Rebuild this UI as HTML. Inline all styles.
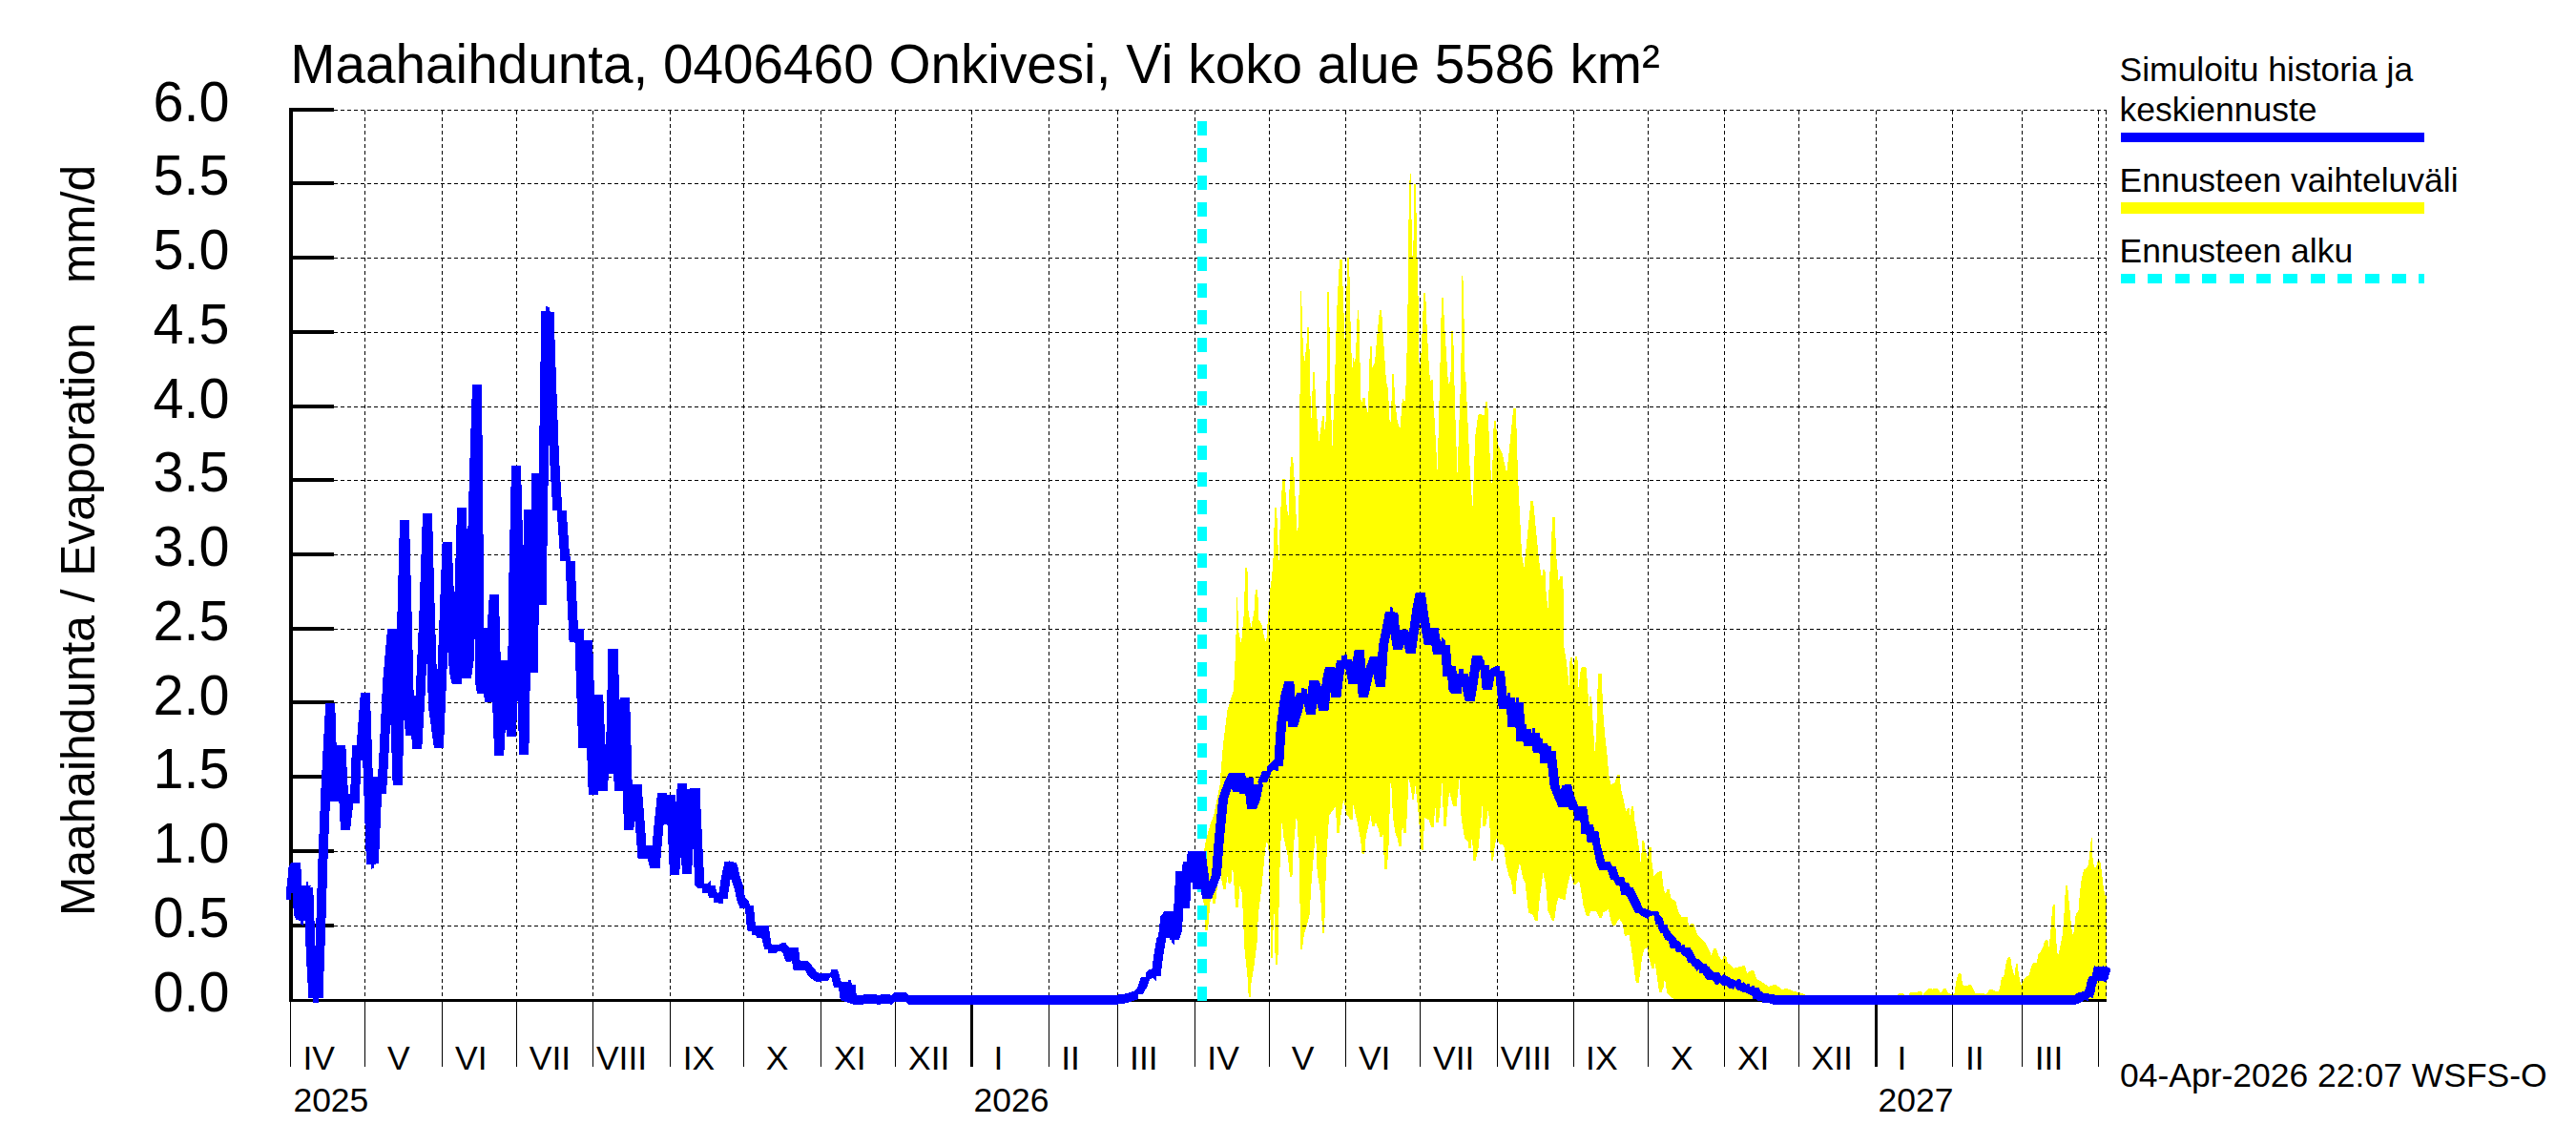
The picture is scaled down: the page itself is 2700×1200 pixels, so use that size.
<!DOCTYPE html>
<html lang="fi"><head><meta charset="utf-8"><title>Maahaihdunta, 0406460 Onkivesi</title>
<style>html,body{margin:0;padding:0;background:#fff}svg{display:block}text{font-family:"Liberation Sans",sans-serif;fill:#000}</style></head><body>
<svg width="2700" height="1200" viewBox="0 0 2700 1200">
<rect width="2700" height="1200" fill="#fff"/>
<g shape-rendering="crispEdges">
<polygon fill="#ffff00" points="1260.0,905.0 1264.0,880.0 1268.0,866.0 1272.7,852.0 1278.4,824.0 1281.8,782.0 1286.3,745.0 1293.0,723.0 1295.4,675.0 1296.0,626.0 1297.2,626.0 1298.0,660.0 1301.0,675.0 1304.0,640.0 1305.2,594.8 1307.4,594.8 1308.5,640.0 1311.3,658.0 1314.5,640.0 1315.8,618.4 1318.2,618.4 1319.5,650.0 1322.2,653.4 1325.0,668.0 1327.2,673.8 1329.5,640.0 1331.0,620.0 1333.0,605.5 1334.5,585.0 1336.2,531.7 1338.2,531.7 1339.0,560.0 1340.4,590.7 1342.0,540.0 1344.2,501.5 1346.7,501.5 1348.0,525.0 1350.4,543.0 1352.0,500.0 1353.0,479.0 1355.0,479.0 1356.0,490.0 1358.0,530.0 1360.1,565.8 1361.5,520.0 1362.4,440.0 1363.0,305.0 1364.2,305.0 1365.0,345.0 1367.0,382.0 1369.5,360.0 1370.5,342.8 1372.2,342.8 1373.0,400.0 1374.4,442.0 1375.5,410.0 1376.1,389.8 1377.8,389.8 1379.0,420.0 1382.4,463.0 1385.0,445.0 1386.0,436.3 1388.0,436.3 1389.0,463.6 1390.5,400.0 1391.5,305.8 1393.2,305.8 1394.0,400.0 1396.5,467.0 1399.0,400.0 1401.0,330.0 1403.0,290.0 1404.2,271.7 1406.5,271.7 1407.5,300.0 1409.6,358.0 1411.5,300.0 1412.5,270.1 1414.2,270.1 1415.0,320.0 1416.5,370.0 1417.5,385.0 1418.0,374.6 1419.2,374.6 1420.0,385.0 1422.0,350.0 1422.8,324.6 1424.3,324.6 1425.0,360.0 1426.7,426.0 1428.2,417.0 1430.5,417.0 1431.5,425.0 1433.5,431.8 1435.0,400.0 1435.8,362.5 1437.5,362.5 1438.5,385.0 1441.0,380.0 1443.5,350.0 1445.5,330.0 1446.3,324.6 1448.0,324.6 1449.0,340.0 1451.0,370.0 1453.0,400.0 1454.4,404.8 1455.5,420.0 1457.1,451.8 1458.5,420.0 1459.2,391.6 1461.0,391.6 1462.0,420.0 1464.5,440.0 1467.3,450.0 1469.0,430.0 1469.8,418.0 1471.3,418.0 1472.0,425.0 1473.0,415.0 1473.7,400.0 1474.5,370.0 1475.5,320.0 1476.5,230.0 1477.3,195.0 1477.8,181.6 1479.0,181.6 1479.5,230.0 1480.5,268.0 1481.6,250.0 1482.4,192.9 1484.0,192.9 1484.8,240.0 1486.5,310.0 1487.5,380.0 1488.5,385.0 1489.5,370.0 1491.0,340.0 1492.2,307.1 1494.2,307.1 1495.0,330.0 1497.0,370.0 1499.0,400.0 1500.0,398.4 1501.7,398.4 1502.5,420.0 1506.6,493.6 1508.5,420.0 1510.0,360.0 1510.9,311.7 1512.7,311.7 1513.5,330.0 1515.0,355.0 1517.5,395.0 1519.0,405.0 1520.5,390.0 1521.5,346.6 1523.2,346.6 1524.0,385.0 1525.5,440.0 1527.5,495.8 1529.5,440.0 1531.0,400.0 1532.0,340.0 1532.3,289.0 1533.3,289.0 1534.0,305.0 1535.5,390.0 1536.5,400.0 1538.4,440.0 1540.6,490.0 1543.4,532.8 1546.3,456.8 1548.5,440.0 1549.8,434.0 1552.2,434.0 1555.4,436.0 1557.2,420.9 1559.2,420.9 1560.0,440.0 1561.5,475.0 1563.4,509.0 1565.0,470.0 1565.7,440.9 1567.5,440.9 1570.2,465.9 1574.7,475.0 1579.2,496.5 1582.0,470.0 1584.5,445.0 1586.3,427.7 1588.5,427.7 1589.4,445.4 1591.0,497.7 1592.8,536.2 1595.1,581.7 1597.4,594.8 1600.0,570.0 1603.0,540.0 1604.5,524.9 1607.0,524.9 1609.9,554.4 1613.3,588.5 1616.0,606.6 1617.2,597.0 1619.4,597.0 1620.5,620.0 1622.4,639.6 1625.0,590.0 1627.2,541.9 1629.8,541.9 1631.0,580.0 1633.7,610.0 1635.2,604.4 1637.6,604.4 1638.7,620.0 1639.1,676.0 1640.9,687.0 1642.7,700.0 1644.5,718.1 1645.7,689.0 1648.0,689.0 1649.0,703.6 1651.0,688.1 1653.4,688.1 1654.5,720.0 1657.0,700.0 1658.2,699.0 1660.8,699.0 1662.7,700.0 1663.6,712.7 1665.4,740.8 1666.5,730.0 1668.2,730.0 1668.7,741.7 1670.0,763.5 1671.8,791.7 1673.6,756.3 1674.5,721.7 1675.4,706.3 1679.0,706.3 1679.6,730.8 1680.9,756.3 1682.7,774.4 1684.5,790.8 1686.3,812.6 1688.7,822.6 1692.7,819.8 1695.0,812.2 1697.5,812.2 1699.0,827.1 1701.7,838.0 1703.1,845.4 1705.1,852.2 1705.7,846.5 1707.4,846.5 1708.6,854.5 1710.0,845.0 1712.2,845.0 1713.1,859.0 1715.4,870.4 1717.6,886.3 1719.9,906.7 1721.1,881.3 1723.3,881.3 1724.5,889.7 1726.7,899.9 1728.5,888.1 1730.5,888.1 1731.3,902.2 1733.5,918.1 1739.0,913.1 1741.5,913.1 1743.8,931.7 1746.0,937.4 1747.2,932.4 1749.5,932.4 1751.7,941.9 1756.2,944.2 1759.6,956.7 1763.0,961.2 1768.7,961.2 1769.9,970.3 1772.8,968.0 1775.2,968.0 1779.0,979.4 1783.5,983.9 1788.0,988.5 1793.7,1001.0 1796.3,993.5 1798.8,993.5 1801.6,1002.1 1805.0,1006.6 1806.8,1001.6 1809.2,1001.6 1810.7,1008.9 1817.5,1014.6 1826.5,1012.3 1829.0,1012.3 1831.2,1020.3 1835.5,1016.9 1838.0,1016.9 1841.4,1025.9 1847.0,1029.3 1853.9,1033.9 1859.5,1032.1 1862.0,1032.1 1867.5,1037.3 1870.8,1036.1 1873.2,1036.1 1878.9,1038.4 1885.7,1040.2 1892.5,1042.5 1897.0,1043.4 1987.8,1043.0 1989.4,1041.9 1991.3,1040.7 1993.8,1040.7 1996.5,1042.7 2000.4,1042.7 2002.3,1039.6 2004.8,1039.6 2008.3,1040.0 2011.8,1039.1 2014.2,1039.1 2015.4,1042.7 2019.3,1038.5 2021.2,1036.1 2023.7,1036.1 2025.6,1036.6 2027.5,1036.1 2030.0,1036.1 2031.9,1037.2 2033.8,1040.7 2036.6,1037.2 2037.5,1036.1 2039.8,1036.1 2041.3,1040.4 2044.5,1041.9 2048.4,1041.6 2050.0,1030.9 2051.5,1023.8 2053.2,1019.9 2055.3,1019.9 2056.2,1026.2 2057.8,1032.8 2061.7,1033.3 2063.7,1032.0 2066.1,1032.0 2067.3,1034.1 2068.8,1037.2 2070.4,1040.7 2077.5,1041.1 2082.2,1041.9 2084.5,1038.0 2085.7,1036.9 2088.2,1036.9 2090.0,1038.0 2091.6,1039.6 2094.8,1038.8 2096.3,1034.8 2097.9,1024.6 2100.3,1023.8 2101.8,1013.6 2103.4,1005.8 2105.3,1002.9 2107.3,1002.9 2108.1,1010.5 2109.7,1016.8 2111.3,1023.1 2112.8,1012.1 2113.6,1010.2 2114.9,1010.2 2115.5,1018.3 2117.1,1027.8 2118.7,1032.5 2120.7,1027.0 2123.1,1023.8 2126.2,1022.7 2128.6,1015.2 2130.1,1010.5 2131.3,1008.6 2133.7,1008.6 2134.8,1008.9 2136.4,1000.3 2138.8,997.9 2141.1,993.2 2142.7,986.9 2144.2,985.0 2146.4,985.0 2147.4,993.2 2149.0,980.6 2150.6,958.6 2151.8,947.9 2153.6,947.9 2154.2,968.0 2155.8,993.2 2156.9,1002.6 2159.2,993.2 2161.6,980.6 2163.1,964.9 2164.7,935.0 2165.5,927.9 2167.1,927.9 2167.9,938.2 2169.4,952.3 2171.0,971.2 2173.0,981.4 2174.6,968.0 2175.7,957.8 2178.4,955.5 2180.0,935.0 2182.0,919.3 2184.4,911.4 2188.3,908.3 2189.9,898.9 2191.4,883.1 2191.8,878.0 2192.6,878.0 2193.0,895.7 2194.6,906.7 2196.2,909.9 2197.7,906.7 2198.9,902.0 2200.9,902.0 2201.7,905.2 2203.2,916.2 2204.8,930.3 2206.4,938.2 2207.6,939.0 2207.6,1048.0 1756.0,1048.0 1751.7,1045.2 1747.2,1040.7 1744.9,1024.8 1743.8,1033.9 1741.5,1039.6 1739.0,1039.6 1736.9,1024.8 1734.7,1008.9 1733.6,1014.6 1731.2,1014.6 1728.5,1004.4 1726.7,993.0 1723.3,995.3 1721.0,1004.4 1718.8,1022.5 1717.7,1029.8 1715.3,1029.8 1714.2,1027.1 1712.0,1008.9 1709.7,993.0 1707.4,979.4 1705.2,980.5 1702.8,980.5 1700.6,968.0 1697.2,962.4 1692.8,970.3 1690.2,970.3 1688.1,963.5 1685.8,953.3 1680.2,956.7 1679.1,962.4 1676.7,962.4 1673.4,955.5 1667.7,954.4 1665.5,960.1 1663.0,960.1 1659.7,949.9 1657.5,936.2 1655.2,922.6 1652.0,927.2 1649.6,927.2 1648.4,922.6 1646.2,914.7 1642.8,929.4 1640.7,942.6 1638.2,942.6 1633.7,940.8 1631.5,947.6 1629.2,964.6 1626.8,964.6 1622.4,954.4 1620.1,927.2 1617.4,914.7 1613.3,945.3 1611.7,965.3 1609.2,965.3 1606.5,958.9 1602.0,956.7 1598.5,924.9 1596.3,920.3 1592.9,904.4 1589.9,918.1 1588.5,937.4 1586.0,937.4 1583.8,922.6 1581.5,918.1 1578.1,904.4 1576.3,886.3 1571.3,884.0 1569.0,877.2 1566.8,886.3 1565.2,901.5 1562.8,901.5 1561.5,868.1 1559.9,847.7 1557.7,863.6 1556.6,865.8 1554.5,865.8 1553.6,844.3 1549.7,888.6 1546.8,901.5 1544.3,901.5 1542.9,874.9 1541.8,888.6 1539.5,888.6 1538.4,881.7 1535.0,878.3 1531.6,856.8 1529.7,815.4 1526.5,845.4 1524.0,845.4 1522.5,843.1 1519.1,829.5 1516.8,852.2 1515.7,865.8 1513.2,865.8 1511.6,820.4 1508.9,854.5 1507.8,862.4 1505.4,862.4 1504.3,843.1 1502.7,867.0 1500.2,867.0 1497.5,859.0 1493.0,856.8 1491.8,890.8 1489.6,890.8 1488.4,874.9 1486.1,845.4 1483.2,821.6 1482.2,837.5 1480.2,837.5 1479.3,829.5 1476.6,815.4 1473.8,872.7 1471.2,872.7 1469.8,863.6 1468.7,887.4 1466.2,887.4 1464.6,878.3 1462.3,872.7 1460.0,856.8 1457.8,811.4 1455.5,886.3 1453.8,910.8 1451.2,910.8 1449.4,872.7 1448.5,877.2 1446.4,877.2 1445.3,870.4 1441.9,861.3 1440.8,865.8 1438.3,865.8 1436.6,854.5 1431.7,877.2 1430.2,895.4 1427.7,895.4 1426.0,879.5 1422.6,861.3 1418.5,844.3 1417.7,859.0 1415.7,859.0 1411.2,853.4 1408.3,837.5 1405.5,854.5 1403.8,872.7 1401.3,872.7 1399.9,845.4 1393.1,854.5 1390.8,890.8 1389.0,936.2 1388.2,978.2 1386.2,978.2 1384.0,936.2 1380.6,913.5 1379.0,870.4 1374.4,927.2 1372.6,958.9 1370.3,968.0 1366.9,979.4 1364.8,995.3 1363.0,995.3 1362.4,936.2 1361.3,890.8 1359.0,851.8 1355.6,890.8 1354.4,919.2 1352.0,919.2 1349.9,897.6 1345.4,877.2 1343.6,861.3 1342.0,890.8 1340.8,936.2 1339.3,1011.2 1336.8,1011.2 1335.1,940.8 1334.0,1004.4 1332.1,1004.4 1331.3,950.0 1329.5,890.8 1327.9,880.6 1326.1,890.8 1322.7,927.2 1318.8,958.9 1317.7,986.2 1314.7,1011.2 1311.5,1030.0 1310.5,1044.8 1308.7,1044.8 1307.9,1027.1 1304.5,995.3 1301.8,936.2 1299.5,929.4 1297.8,951.0 1295.2,951.0 1292.0,906.7 1290.3,926.0 1287.8,926.0 1286.3,918.1 1284.8,931.7 1282.3,931.7 1279.5,918.1 1276.1,927.2 1274.0,946.5 1271.5,946.5 1269.3,936.2 1266.0,974.8 1263.5,974.8 1260.0,925.0"/>
<g stroke="#000" stroke-width="1" stroke-dasharray="4.2 2.8" fill="none">
<line x1="350" y1="970.5" x2="2207.5" y2="970.5"/>
<line x1="350" y1="892.5" x2="2207.5" y2="892.5"/>
<line x1="350" y1="814.5" x2="2207.5" y2="814.5"/>
<line x1="350" y1="736.5" x2="2207.5" y2="736.5"/>
<line x1="350" y1="659.5" x2="2207.5" y2="659.5"/>
<line x1="350" y1="581.5" x2="2207.5" y2="581.5"/>
<line x1="350" y1="503.5" x2="2207.5" y2="503.5"/>
<line x1="350" y1="426.5" x2="2207.5" y2="426.5"/>
<line x1="350" y1="348.5" x2="2207.5" y2="348.5"/>
<line x1="350" y1="270.5" x2="2207.5" y2="270.5"/>
<line x1="350" y1="192.5" x2="2207.5" y2="192.5"/>
<line x1="350" y1="115.5" x2="2207.5" y2="115.5"/>
<line x1="382.5" y1="116" x2="382.5" y2="1047"/>
<line x1="463.5" y1="116" x2="463.5" y2="1047"/>
<line x1="541.5" y1="116" x2="541.5" y2="1047"/>
<line x1="621.5" y1="116" x2="621.5" y2="1047"/>
<line x1="702.5" y1="116" x2="702.5" y2="1047"/>
<line x1="779.5" y1="116" x2="779.5" y2="1047"/>
<line x1="860.5" y1="116" x2="860.5" y2="1047"/>
<line x1="938.5" y1="116" x2="938.5" y2="1047"/>
<line x1="1018.5" y1="116" x2="1018.5" y2="1047"/>
<line x1="1099.5" y1="116" x2="1099.5" y2="1047"/>
<line x1="1171.5" y1="116" x2="1171.5" y2="1047"/>
<line x1="1252.5" y1="116" x2="1252.5" y2="1047"/>
<line x1="1330.5" y1="116" x2="1330.5" y2="1047"/>
<line x1="1410.5" y1="116" x2="1410.5" y2="1047"/>
<line x1="1488.5" y1="116" x2="1488.5" y2="1047"/>
<line x1="1569.5" y1="116" x2="1569.5" y2="1047"/>
<line x1="1649.5" y1="116" x2="1649.5" y2="1047"/>
<line x1="1727.5" y1="116" x2="1727.5" y2="1047"/>
<line x1="1807.5" y1="116" x2="1807.5" y2="1047"/>
<line x1="1885.5" y1="116" x2="1885.5" y2="1047"/>
<line x1="1966.5" y1="116" x2="1966.5" y2="1047"/>
<line x1="2046.5" y1="116" x2="2046.5" y2="1047"/>
<line x1="2119.5" y1="116" x2="2119.5" y2="1047"/>
<line x1="2199.5" y1="116" x2="2199.5" y2="1047"/>
<line x1="2207.5" y1="116" x2="2207.5" y2="1047"/>
</g>
<rect x="303" y="113" width="4" height="937" fill="#000"/>
<rect x="303" y="1047" width="1905" height="3" fill="#000"/>
<rect x="303" y="968" width="47" height="4" fill="#000"/>
<rect x="303" y="890" width="47" height="4" fill="#000"/>
<rect x="303" y="812" width="47" height="4" fill="#000"/>
<rect x="303" y="734" width="47" height="4" fill="#000"/>
<rect x="303" y="657" width="47" height="4" fill="#000"/>
<rect x="303" y="579" width="47" height="4" fill="#000"/>
<rect x="303" y="501" width="47" height="4" fill="#000"/>
<rect x="303" y="424" width="47" height="4" fill="#000"/>
<rect x="303" y="346" width="47" height="4" fill="#000"/>
<rect x="303" y="268" width="47" height="4" fill="#000"/>
<rect x="303" y="190" width="47" height="4" fill="#000"/>
<rect x="303" y="113" width="47" height="4" fill="#000"/>
<rect x="303.8" y="1050" width="1.4" height="68" fill="#000"/>
<rect x="381.8" y="1050" width="1.4" height="68" fill="#000"/>
<rect x="462.8" y="1050" width="1.4" height="68" fill="#000"/>
<rect x="540.8" y="1050" width="1.4" height="68" fill="#000"/>
<rect x="620.8" y="1050" width="1.4" height="68" fill="#000"/>
<rect x="701.8" y="1050" width="1.4" height="68" fill="#000"/>
<rect x="778.8" y="1050" width="1.4" height="68" fill="#000"/>
<rect x="859.8" y="1050" width="1.4" height="68" fill="#000"/>
<rect x="937.8" y="1050" width="1.4" height="68" fill="#000"/>
<rect x="1017.0" y="1050" width="3" height="68" fill="#000"/>
<rect x="1098.8" y="1050" width="1.4" height="68" fill="#000"/>
<rect x="1170.8" y="1050" width="1.4" height="68" fill="#000"/>
<rect x="1251.8" y="1050" width="1.4" height="68" fill="#000"/>
<rect x="1329.8" y="1050" width="1.4" height="68" fill="#000"/>
<rect x="1409.8" y="1050" width="1.4" height="68" fill="#000"/>
<rect x="1487.8" y="1050" width="1.4" height="68" fill="#000"/>
<rect x="1568.8" y="1050" width="1.4" height="68" fill="#000"/>
<rect x="1648.8" y="1050" width="1.4" height="68" fill="#000"/>
<rect x="1726.8" y="1050" width="1.4" height="68" fill="#000"/>
<rect x="1806.8" y="1050" width="1.4" height="68" fill="#000"/>
<rect x="1884.8" y="1050" width="1.4" height="68" fill="#000"/>
<rect x="1965.0" y="1050" width="3" height="68" fill="#000"/>
<rect x="2045.8" y="1050" width="1.4" height="68" fill="#000"/>
<rect x="2118.8" y="1050" width="1.4" height="68" fill="#000"/>
<rect x="2198.8" y="1050" width="1.4" height="68" fill="#000"/>
<line x1="1260" y1="1048.8" x2="1260" y2="115" stroke="#00ffff" stroke-width="10" stroke-dasharray="15 13.34"/>
<path fill="#0000ff" fill-rule="nonzero" d="M302.6 908.0L312.6 908.0L310.0 936.0L300.0 936.0ZM305.2 904.0L315.2 904.0L312.6 908.0L302.6 908.0ZM305.2 904.0L315.2 904.0L317.8 958.0L307.8 958.0ZM307.8 958.0L317.8 958.0L320.4 964.0L310.4 964.0ZM318.0 960.0L318.0 970.0L315.4 969.0L315.4 959.0ZM315.6 928.0L325.6 928.0L323.0 965.0L313.0 965.0ZM323.2 925.0L323.2 935.0L320.6 933.0L320.6 923.0ZM318.2 930.0L328.2 930.0L330.8 1000.0L320.8 1000.0ZM320.8 1000.0L330.8 1000.0L333.4 1046.0L323.4 1046.0ZM333.5 1041.0L333.5 1051.0L328.4 1051.0L328.4 1041.0ZM331.1 975.0L341.1 975.0L338.5 1046.0L328.5 1046.0ZM333.7 895.0L343.7 895.0L341.1 975.0L331.1 975.0ZM336.3 830.0L346.3 830.0L343.7 895.0L333.7 895.0ZM338.9 780.0L348.9 780.0L346.3 830.0L336.3 830.0ZM341.2 737.0L351.2 737.0L348.9 780.0L338.9 780.0ZM341.2 737.0L351.2 737.0L354.5 840.0L344.5 840.0ZM348.0 800.0L358.0 800.0L354.5 840.0L344.5 840.0ZM352.3 781.0L362.3 781.0L358.0 800.0L348.0 800.0ZM352.3 781.0L362.3 781.0L367.0 870.0L357.0 870.0ZM361.5 832.0L371.5 832.0L367.0 870.0L357.0 870.0ZM361.5 832.0L371.5 832.0L376.8 841.5L366.8 841.5ZM369.0 781.0L379.0 781.0L376.8 841.5L366.8 841.5ZM369.0 781.0L379.0 781.0L382.5 797.0L372.5 797.0ZM375.3 760.0L385.3 760.0L382.5 797.0L372.5 797.0ZM377.9 726.0L387.9 726.0L385.3 760.0L375.3 760.0ZM377.9 726.0L387.9 726.0L391.0 820.0L381.0 820.0ZM381.0 820.0L391.0 820.0L394.0 906.0L384.0 906.0ZM391.8 900.0L391.8 910.0L389.0 911.0L389.0 901.0ZM391.0 814.0L401.0 814.0L396.8 905.0L386.8 905.0ZM391.0 814.0L401.0 814.0L405.0 832.0L395.0 832.0ZM398.0 780.0L408.0 780.0L405.0 832.0L395.0 832.0ZM401.0 716.0L411.0 716.0L408.0 780.0L398.0 780.0ZM406.0 659.0L416.0 659.0L411.0 716.0L401.0 716.0ZM406.0 659.0L416.0 659.0L421.7 823.0L411.7 823.0ZM415.5 680.0L425.5 680.0L421.7 823.0L411.7 823.0ZM419.0 545.0L429.0 545.0L425.5 680.0L415.5 680.0ZM419.0 545.0L429.0 545.0L432.0 660.0L422.0 660.0ZM422.0 660.0L432.0 660.0L434.7 771.0L424.7 771.0ZM428.5 729.0L438.5 729.0L434.7 771.0L424.7 771.0ZM428.5 729.0L438.5 729.0L442.2 785.0L432.2 785.0ZM436.0 720.0L446.0 720.0L442.2 785.0L432.2 785.0ZM439.5 640.0L449.5 640.0L446.0 720.0L436.0 720.0ZM443.0 538.0L453.0 538.0L449.5 640.0L439.5 640.0ZM443.0 538.0L453.0 538.0L456.0 650.0L446.0 650.0ZM446.0 650.0L456.0 650.0L459.0 741.0L449.0 741.0ZM449.0 741.0L459.0 741.0L464.9 784.0L454.9 784.0ZM459.0 690.0L469.0 690.0L464.9 784.0L454.9 784.0ZM463.6 568.0L473.6 568.0L469.0 690.0L459.0 690.0ZM463.6 568.0L473.6 568.0L477.0 650.0L467.0 650.0ZM467.0 650.0L477.0 650.0L481.0 705.0L471.0 705.0ZM471.0 705.0L481.0 705.0L483.7 717.0L473.7 717.0ZM476.5 620.0L486.5 620.0L483.7 717.0L473.7 717.0ZM479.0 532.0L489.0 532.0L486.5 620.0L476.5 620.0ZM479.0 532.0L489.0 532.0L491.5 640.0L481.5 640.0ZM481.5 640.0L491.5 640.0L494.0 711.0L484.0 711.0ZM487.0 690.0L497.0 690.0L494.0 711.0L484.0 711.0ZM490.0 569.0L500.0 569.0L497.0 690.0L487.0 690.0ZM492.5 480.0L502.5 480.0L500.0 569.0L490.0 569.0ZM495.0 403.0L505.0 403.0L502.5 480.0L492.5 480.0ZM495.0 403.0L505.0 403.0L506.5 560.0L496.5 560.0ZM496.5 560.0L506.5 560.0L508.0 715.0L498.0 715.0ZM498.0 715.0L508.0 715.0L510.0 727.0L500.0 727.0ZM502.5 690.0L512.5 690.0L510.0 727.0L500.0 727.0ZM505.0 658.0L515.0 658.0L512.5 690.0L502.5 690.0ZM505.0 658.0L515.0 658.0L517.7 736.0L507.7 736.0ZM510.5 660.0L520.5 660.0L517.7 736.0L507.7 736.0ZM512.9 623.0L522.9 623.0L520.5 660.0L510.5 660.0ZM512.9 623.0L522.9 623.0L525.5 720.0L515.5 720.0ZM515.5 720.0L525.5 720.0L528.2 792.0L518.2 792.0ZM521.0 740.0L531.0 740.0L528.2 792.0L518.2 792.0ZM524.1 692.0L534.1 692.0L531.0 740.0L521.0 740.0ZM524.1 692.0L534.1 692.0L537.5 740.0L527.5 740.0ZM527.5 740.0L537.5 740.0L541.3 771.5L531.3 771.5ZM533.5 600.0L543.5 600.0L541.3 771.5L531.3 771.5ZM536.0 488.0L546.0 488.0L543.5 600.0L533.5 600.0ZM536.0 488.0L546.0 488.0L549.0 600.0L539.0 600.0ZM539.0 600.0L549.0 600.0L552.0 720.0L542.0 720.0ZM542.0 720.0L552.0 720.0L554.3 791.0L544.3 791.0ZM547.0 640.0L557.0 640.0L554.3 791.0L544.3 791.0ZM549.3 534.0L559.3 534.0L557.0 640.0L547.0 640.0ZM549.3 534.0L559.3 534.0L561.5 620.0L551.5 620.0ZM551.5 620.0L561.5 620.0L563.6 705.0L553.6 705.0ZM555.5 600.0L565.5 600.0L563.6 705.0L553.6 705.0ZM557.5 496.0L567.5 496.0L565.5 600.0L555.5 600.0ZM557.5 496.0L567.5 496.0L570.0 580.0L560.0 580.0ZM560.0 580.0L570.0 580.0L572.5 634.0L562.5 634.0ZM565.0 480.0L575.0 480.0L572.5 634.0L562.5 634.0ZM567.3 325.5L577.3 325.5L575.0 480.0L565.0 480.0ZM575.5 322.0L575.5 332.0L572.3 330.5L572.3 320.5ZM570.5 327.0L580.5 327.0L583.0 400.0L573.0 400.0ZM573.0 400.0L583.0 400.0L586.0 480.0L576.0 480.0ZM576.0 480.0L586.0 480.0L589.4 535.0L579.4 535.0ZM588.6 530.0L588.6 540.0L584.4 540.0L584.4 530.0ZM583.6 535.0L593.6 535.0L597.5 588.0L587.5 588.0ZM597.5 583.0L597.5 593.0L592.5 593.0L592.5 583.0ZM592.5 588.0L602.5 588.0L606.6 673.0L596.6 673.0ZM602.0 659.0L612.0 659.0L606.6 673.0L596.6 673.0ZM602.0 659.0L612.0 659.0L616.3 784.0L606.3 784.0ZM611.0 671.0L621.0 671.0L616.3 784.0L606.3 784.0ZM611.0 671.0L621.0 671.0L626.8 833.0L616.8 833.0ZM622.2 728.0L632.2 728.0L626.8 833.0L616.8 833.0ZM622.2 728.0L632.2 728.0L636.5 829.0L626.5 829.0ZM631.0 780.0L641.0 780.0L636.5 829.0L626.5 829.0ZM631.0 780.0L641.0 780.0L644.5 811.0L634.5 811.0ZM637.5 680.0L647.5 680.0L644.5 811.0L634.5 811.0ZM637.5 680.0L647.5 680.0L650.5 760.0L640.5 760.0ZM640.5 760.0L650.5 760.0L654.0 828.6L644.0 828.6ZM647.0 780.0L657.0 780.0L654.0 828.6L644.0 828.6ZM650.1 731.0L660.1 731.0L657.0 780.0L647.0 780.0ZM650.1 731.0L660.1 731.0L664.0 870.0L654.0 870.0ZM658.0 845.0L668.0 845.0L664.0 870.0L654.0 870.0ZM662.5 822.0L672.5 822.0L668.0 845.0L658.0 845.0ZM662.5 822.0L672.5 822.0L675.5 860.0L665.5 860.0ZM665.5 860.0L675.5 860.0L678.6 900.0L668.6 900.0ZM672.0 896.0L682.0 896.0L678.6 900.0L668.6 900.0ZM675.6 886.0L685.6 886.0L682.0 896.0L672.0 896.0ZM675.6 886.0L685.6 886.0L688.5 900.0L678.5 900.0ZM678.5 900.0L688.5 900.0L691.5 910.0L681.5 910.0ZM685.0 870.0L695.0 870.0L691.5 910.0L681.5 910.0ZM689.0 831.0L699.0 831.0L695.0 870.0L685.0 870.0ZM689.0 831.0L699.0 831.0L702.0 848.0L692.0 848.0ZM692.0 848.0L702.0 848.0L704.7 864.0L694.7 864.0ZM698.0 833.0L708.0 833.0L704.7 864.0L694.7 864.0ZM698.0 833.0L708.0 833.0L712.0 916.6L702.0 916.6ZM706.0 870.0L716.0 870.0L712.0 916.6L702.0 916.6ZM710.0 821.4L720.0 821.4L716.0 870.0L706.0 870.0ZM710.0 821.4L720.0 821.4L722.5 870.0L712.5 870.0ZM712.5 870.0L722.5 870.0L725.0 916.2L715.0 916.2ZM717.5 870.0L727.5 870.0L725.0 916.2L715.0 916.2ZM720.0 827.0L730.0 827.0L727.5 870.0L717.5 870.0ZM720.0 827.0L730.0 827.0L731.8 850.0L721.8 850.0ZM723.5 826.0L733.5 826.0L731.8 850.0L721.8 850.0ZM723.5 826.0L733.5 826.0L736.0 880.0L726.0 880.0ZM726.0 880.0L736.0 880.0L738.5 928.0L728.5 928.0ZM728.5 928.0L738.5 928.0L741.0 931.0L731.0 931.0ZM741.0 926.0L741.0 936.0L736.0 936.0L736.0 926.0ZM744.5 923.0L744.5 933.0L741.0 936.0L741.0 926.0ZM739.5 928.0L749.5 928.0L753.0 941.0L743.0 941.0ZM757.5 937.0L757.5 947.0L748.0 946.0L748.0 936.0ZM755.5 922.0L765.5 922.0L762.5 942.0L752.5 942.0ZM759.5 903.0L769.5 903.0L765.5 922.0L755.5 922.0ZM916.0 1041.5L916.0 1051.5L900.0 1053.0L900.0 1043.0ZM920.0 1043.0L920.0 1053.0L916.0 1051.5L916.0 1041.5ZM930.0 1041.5L930.0 1051.5L920.0 1053.0L920.0 1043.0ZM934.0 1043.0L934.0 1053.0L930.0 1051.5L930.0 1041.5ZM937.0 1040.0L937.0 1050.0L934.0 1053.0L934.0 1043.0ZM949.0 1040.0L949.0 1050.0L937.0 1050.0L937.0 1040.0ZM952.0 1043.0L952.0 1053.0L949.0 1050.0L949.0 1040.0ZM1169.0 1043.0L1169.0 1053.0L952.0 1053.0L952.0 1043.0ZM1182.0 1041.0L1182.0 1051.0L1169.0 1053.0L1169.0 1043.0ZM1193.0 1037.0L1193.0 1047.0L1182.0 1051.0L1182.0 1041.0ZM1193.0 1033.0L1203.0 1033.0L1198.0 1042.0L1188.0 1042.0ZM1196.0 1024.0L1206.0 1024.0L1203.0 1033.0L1193.0 1033.0ZM1205.0 1016.0L1205.0 1026.0L1201.0 1029.0L1201.0 1019.0ZM1208.0 1015.0L1208.0 1025.0L1205.0 1026.0L1205.0 1016.0ZM1211.5 1018.0L1211.5 1028.0L1208.0 1025.0L1208.0 1015.0ZM1209.0 1003.0L1219.0 1003.0L1216.5 1023.0L1206.5 1023.0ZM1212.1 984.0L1222.1 984.0L1219.0 1003.0L1209.0 1003.0ZM1214.0 981.0L1224.0 981.0L1222.1 984.0L1212.1 984.0ZM1216.5 960.0L1226.5 960.0L1224.0 981.0L1214.0 981.0ZM1220.5 955.2L1230.5 955.2L1226.5 960.0L1216.5 960.0ZM1220.5 955.2L1230.5 955.2L1233.0 983.0L1223.0 983.0ZM1231.0 980.0L1231.0 990.0L1228.0 988.0L1228.0 978.0ZM1229.0 975.0L1239.0 975.0L1236.0 985.0L1226.0 985.0ZM1232.3 913.3L1242.3 913.3L1239.0 975.0L1229.0 975.0ZM1232.3 913.3L1242.3 913.3L1247.1 952.0L1237.1 952.0ZM1239.7 902.8L1249.7 902.8L1247.1 952.0L1237.1 952.0ZM1239.7 902.8L1249.7 902.8L1252.2 915.0L1242.2 915.0ZM1244.8 892.3L1254.8 892.3L1252.2 915.0L1242.2 915.0ZM1244.8 892.3L1254.8 892.3L1257.5 905.0L1247.5 905.0ZM1247.5 905.0L1257.5 905.0L1260.2 931.6L1250.2 931.6ZM1253.5 892.3L1263.5 892.3L1260.2 931.6L1250.2 931.6ZM1253.5 892.3L1263.5 892.3L1266.5 915.0L1256.5 915.0ZM1256.5 915.0L1266.5 915.0L1270.0 942.0L1260.0 942.0ZM1265.0 930.0L1275.0 930.0L1270.0 942.0L1260.0 942.0ZM1270.0 917.0L1280.0 917.0L1275.0 930.0L1265.0 930.0ZM1273.0 878.0L1283.0 878.0L1280.0 917.0L1270.0 917.0ZM1277.0 838.0L1287.0 838.0L1283.0 878.0L1273.0 878.0ZM1281.0 826.0L1291.0 826.0L1287.0 838.0L1277.0 838.0ZM1284.0 818.0L1294.0 818.0L1291.0 826.0L1281.0 826.0ZM1288.0 810.0L1298.0 810.0L1294.0 818.0L1284.0 818.0ZM1288.0 810.0L1298.0 810.0L1302.0 830.0L1292.0 830.0ZM1295.0 810.0L1305.0 810.0L1302.0 830.0L1292.0 830.0ZM1295.0 810.0L1305.0 810.0L1309.0 832.0L1299.0 832.0ZM1303.5 815.0L1313.5 815.0L1309.0 832.0L1299.0 832.0ZM1303.5 815.0L1313.5 815.0L1317.0 848.0L1307.0 848.0ZM1311.0 838.0L1321.0 838.0L1317.0 848.0L1307.0 848.0ZM1314.0 822.0L1324.0 822.0L1321.0 838.0L1311.0 838.0ZM1323.0 815.0L1323.0 825.0L1319.0 827.0L1319.0 817.0ZM1323.0 808.0L1333.0 808.0L1328.0 820.0L1318.0 820.0ZM1334.0 797.0L1334.0 807.0L1328.0 813.0L1328.0 803.0ZM1340.0 798.0L1340.0 808.0L1334.0 807.0L1334.0 797.0ZM1338.0 760.0L1348.0 760.0L1345.0 803.0L1335.0 803.0ZM1342.0 730.0L1352.0 730.0L1348.0 760.0L1338.0 760.0ZM1346.3 714.2L1356.3 714.2L1352.0 730.0L1342.0 730.0ZM1346.3 714.2L1356.3 714.2L1360.0 762.0L1350.0 762.0ZM1355.0 745.0L1365.0 745.0L1360.0 762.0L1350.0 762.0ZM1359.0 726.0L1369.0 726.0L1365.0 745.0L1355.0 745.0ZM1370.0 722.0L1370.0 732.0L1364.0 731.0L1364.0 721.0ZM1365.0 727.0L1375.0 727.0L1379.0 749.0L1369.0 749.0ZM1372.0 713.0L1382.0 713.0L1379.0 749.0L1369.0 749.0ZM1372.0 713.0L1382.0 713.0L1386.0 722.0L1376.0 722.0ZM1376.0 722.0L1386.0 722.0L1392.4 745.0L1382.4 745.0ZM1386.0 712.0L1396.0 712.0L1392.4 745.0L1382.4 745.0ZM1389.0 699.0L1399.0 699.0L1396.0 712.0L1386.0 712.0ZM1389.0 699.0L1399.0 699.0L1403.0 706.0L1393.0 706.0ZM1393.0 706.0L1403.0 706.0L1405.4 731.0L1395.4 731.0ZM1398.0 710.0L1408.0 710.0L1405.4 731.0L1395.4 731.0ZM1401.0 692.0L1411.0 692.0L1408.0 710.0L1398.0 710.0ZM1412.0 686.0L1412.0 696.0L1406.0 697.0L1406.0 687.0ZM1407.0 691.0L1417.0 691.0L1420.0 700.0L1410.0 700.0ZM1410.0 700.0L1420.0 700.0L1423.5 717.0L1413.5 717.0ZM1416.5 700.0L1426.5 700.0L1423.5 717.0L1413.5 717.0ZM1419.8 680.6L1429.8 680.6L1426.5 700.0L1416.5 700.0ZM1419.8 680.6L1429.8 680.6L1433.8 731.0L1423.8 731.0ZM1430.0 704.0L1440.0 704.0L1433.8 731.0L1423.8 731.0ZM1436.0 688.0L1446.0 688.0L1440.0 704.0L1430.0 704.0ZM1436.0 688.0L1446.0 688.0L1452.0 720.0L1442.0 720.0ZM1445.0 676.0L1455.0 676.0L1452.0 720.0L1442.0 720.0ZM1448.0 662.0L1458.0 662.0L1455.0 676.0L1445.0 676.0ZM1452.0 640.5L1462.0 640.5L1458.0 662.0L1448.0 662.0ZM1460.3 637.0L1460.3 647.0L1457.0 645.5L1457.0 635.5ZM1455.3 642.0L1465.3 642.0L1467.5 665.0L1457.5 665.0ZM1457.5 665.0L1467.5 665.0L1470.0 680.6L1460.0 680.6ZM1465.8 660.0L1475.8 660.0L1470.0 680.6L1460.0 680.6ZM1465.8 660.0L1475.8 660.0L1480.0 670.0L1470.0 670.0ZM1470.0 670.0L1480.0 670.0L1483.7 685.0L1473.7 685.0ZM1476.5 665.0L1486.5 665.0L1483.7 685.0L1473.7 685.0ZM1480.0 640.0L1490.0 640.0L1486.5 665.0L1476.5 665.0ZM1483.8 621.0L1493.8 621.0L1490.0 640.0L1480.0 640.0ZM1483.8 621.0L1493.8 621.0L1498.0 650.0L1488.0 650.0ZM1488.0 650.0L1498.0 650.0L1502.8 676.3L1492.8 676.3ZM1497.6 658.2L1507.6 658.2L1502.8 676.3L1492.8 676.3ZM1497.6 658.2L1507.6 658.2L1511.9 685.7L1501.9 685.7ZM1505.5 672.0L1515.5 672.0L1511.9 685.7L1501.9 685.7ZM1514.8 671.0L1514.8 681.0L1510.5 677.0L1510.5 667.0ZM1509.8 676.0L1519.8 676.0L1522.5 709.3L1512.5 709.3ZM1516.0 698.3L1526.0 698.3L1522.5 709.3L1512.5 709.3ZM1516.0 698.3L1526.0 698.3L1528.5 723.4L1518.5 723.4ZM1518.5 723.4L1528.5 723.4L1531.6 727.4L1521.6 727.4ZM1524.0 705.6L1534.0 705.6L1531.6 727.4L1521.6 727.4ZM1533.5 700.6L1533.5 710.6L1529.0 710.6L1529.0 700.6ZM1528.5 705.6L1538.5 705.6L1542.0 718.0L1532.0 718.0ZM1532.0 718.0L1542.0 718.0L1545.7 735.2L1535.7 735.2ZM1539.0 715.0L1549.0 715.0L1545.7 735.2L1535.7 735.2ZM1543.0 687.0L1553.0 687.0L1549.0 715.0L1539.0 715.0ZM1543.0 687.0L1553.0 687.0L1556.5 697.0L1546.5 697.0ZM1556.0 692.0L1556.0 702.0L1551.5 702.0L1551.5 692.0ZM1551.0 697.0L1561.0 697.0L1563.8 723.4L1553.8 723.4ZM1557.0 706.0L1567.0 706.0L1563.8 723.4L1553.8 723.4ZM1567.0 698.3L1567.0 708.3L1562.0 711.0L1562.0 701.0ZM1572.0 698.3L1572.0 708.3L1567.0 708.3L1567.0 698.3ZM1567.0 703.3L1577.0 703.3L1580.8 743.0L1570.8 743.0ZM1575.0 731.2L1585.0 731.2L1580.8 743.0L1570.8 743.0ZM1583.2 726.2L1583.2 736.2L1580.0 736.2L1580.0 726.2ZM1578.2 731.2L1588.2 731.2L1590.5 762.4L1580.5 762.4ZM1584.0 736.2L1594.0 736.2L1590.5 762.4L1580.5 762.4ZM1591.7 731.2L1591.7 741.2L1589.0 741.2L1589.0 731.2ZM1586.7 736.2L1596.7 736.2L1599.5 776.7L1589.5 776.7ZM1592.5 763.5L1602.5 763.5L1599.5 776.7L1589.5 776.7ZM1599.7 758.5L1599.7 768.5L1597.5 768.5L1597.5 758.5ZM1594.7 763.5L1604.7 763.5L1607.0 781.7L1597.0 781.7ZM1601.0 768.0L1611.0 768.0L1607.0 781.7L1597.0 781.7ZM1608.8 763.0L1608.8 773.0L1606.0 773.0L1606.0 763.0ZM1603.8 768.0L1613.8 768.0L1616.7 788.5L1606.7 788.5ZM1609.5 779.4L1619.5 779.4L1616.7 788.5L1606.7 788.5ZM1617.4 774.4L1617.4 784.4L1614.5 784.4L1614.5 774.4ZM1612.4 779.4L1622.4 779.4L1624.5 799.8L1614.5 799.8ZM1618.0 787.3L1628.0 787.3L1624.5 799.8L1614.5 799.8ZM1625.6 782.3L1625.6 792.3L1623.0 792.3L1623.0 782.3ZM1620.6 787.3L1630.6 787.3L1634.7 824.8L1624.7 824.8ZM1624.7 824.8L1634.7 824.8L1639.2 836.1L1629.2 836.1ZM1629.2 836.1L1639.2 836.1L1643.7 846.4L1633.7 846.4ZM1637.0 822.5L1647.0 822.5L1643.7 846.4L1633.7 846.4ZM2174.0 1043.0L2174.0 1053.0L1870.0 1053.0L1870.0 1043.0ZM764.2 901.4L766.3 904.2L771.9 904.2L773.3 908.4L775.4 918.2L778.9 927.9L781.0 940.5L785.1 944.7L785.9 948.9L789.6 948.9L790.0 950.3L791.0 961.5L791.9 969.5L805.4 969.5L806.8 978.3L808.2 988.0L808.9 990.1L815.9 990.1L819.4 988.3L823.6 988.3L826.4 992.2L829.9 993.3L836.9 993.3L838.3 1004.8L839.0 1007.3L847.3 1007.3L856.4 1018.8L857.8 1019.5L870.4 1019.5L871.1 1016.3L878.1 1016.3L878.8 1018.8L881.6 1028.6L882.3 1029.3L888.6 1029.3L889.3 1027.2L892.1 1027.2L892.8 1032.1L896.3 1032.1L896.9 1032.8L897.6 1042.5L898.3 1042.8L905.0 1042.8L905.0 1053.0L894.0 1052.5L880.9 1048.0L878.8 1034.9L873.9 1034.9L871.8 1025.8L870.4 1024.4L867.6 1027.9L862.0 1027.9L860.6 1029.3L855.0 1028.6L850.8 1025.8L847.3 1023.0L845.2 1019.5L843.8 1017.4L836.2 1017.4L832.0 1016.7L831.5 1016.0L829.9 1006.2L829.2 1008.3L824.3 1008.3L822.2 1004.1L820.1 997.8L815.9 996.4L814.5 998.5L804.7 998.5L804.7 995.0L801.9 995.0L801.2 994.3L798.4 983.8L797.7 983.1L793.5 983.1L792.0 980.4L788.0 980.4L788.0 975.5L783.8 975.5L783.0 974.0L781.0 952.4L774.7 952.4L774.7 948.9L772.6 944.7L769.8 932.1L766.3 921.7ZM1640.0 822.4L1647.1 822.4L1649.4 832.6L1652.6 840.4L1654.2 845.2L1662.8 845.2L1663.3 846.7L1665.2 857.7L1665.9 864.3L1669.9 864.3L1671.4 871.4L1675.4 871.4L1675.8 873.5L1677.7 886.0L1680.1 893.9L1682.1 902.5L1687.2 902.5L1690.3 908.1L1693.5 908.1L1694.2 910.4L1697.4 919.1L1702.1 919.1L1702.9 920.6L1703.7 924.6L1706.8 924.6L1709.2 930.1L1711.5 930.1L1712.3 931.6L1715.5 937.9L1718.6 944.2L1721.0 949.7L1721.8 951.3L1728.0 953.7L1728.8 954.4L1734.3 954.9L1738.3 954.9L1738.7 956.8L1739.8 960.0L1742.6 961.7L1744.4 968.7L1747.9 969.2L1747.9 972.2L1751.4 977.5L1751.8 978.3L1756.6 982.7L1757.0 984.5L1761.8 988.0L1762.3 990.6L1765.8 990.1L1766.2 993.0L1771.4 993.2L1771.9 994.5L1774.9 998.0L1775.4 999.3L1777.6 1004.5L1780.6 1005.0L1781.0 1005.9L1784.5 1009.3L1788.5 1010.2L1788.9 1012.4L1791.5 1012.8L1792.0 1014.1L1796.8 1019.4L1802.4 1019.4L1802.9 1021.1L1805.1 1023.3L1805.9 1021.1L1809.9 1022.9L1810.3 1023.3L1815.1 1025.9L1819.5 1027.7L1820.3 1026.8L1821.7 1026.2L1824.3 1026.2L1824.7 1027.7L1825.6 1029.9L1828.2 1029.0L1828.6 1030.7L1830.8 1032.5L1831.3 1031.2L1833.4 1031.2L1833.9 1032.5L1834.8 1034.2L1836.1 1033.4L1838.7 1033.4L1839.1 1035.1L1843.9 1035.3L1844.4 1036.9L1844.8 1039.0L1847.4 1039.5L1849.2 1041.2L1853.5 1041.4L1859.7 1042.5L1862.3 1042.8L1875.0 1043.0L1875.0 1053.0L1862.3 1052.8L1858.8 1052.6L1856.2 1052.1L1853.5 1050.8L1847.0 1050.7L1846.6 1048.9L1842.2 1048.6L1840.9 1046.9L1837.4 1046.6L1836.5 1043.8L1836.1 1042.8L1833.9 1042.5L1830.0 1040.5L1827.3 1040.3L1823.4 1038.0L1820.8 1037.7L1819.0 1035.5L1818.6 1034.2L1817.3 1036.7L1812.5 1036.0L1809.4 1033.4L1809.0 1032.9L1805.5 1032.5L1802.9 1030.3L1802.4 1029.9L1801.1 1031.8L1798.1 1031.6L1795.9 1028.1L1795.0 1027.1L1793.7 1027.4L1789.8 1027.2L1787.6 1025.1L1785.0 1021.1L1784.5 1020.1L1781.5 1019.9L1781.0 1017.6L1780.6 1016.3L1778.4 1017.6L1776.2 1014.1L1775.8 1012.8L1773.6 1012.7L1773.2 1009.8L1771.4 1009.3L1768.8 1009.3L1768.4 1006.3L1767.1 1003.2L1766.2 1002.8L1762.7 1000.6L1761.8 998.0L1756.6 997.8L1756.2 994.5L1755.7 993.6L1751.8 994.5L1750.5 993.2L1749.2 987.1L1748.7 985.8L1745.2 985.3L1745.2 983.1L1743.9 982.9L1743.1 978.8L1742.6 977.9L1740.0 977.5L1739.1 975.7L1737.5 970.9L1737.5 969.1L1735.1 969.1L1733.6 959.9L1732.8 959.1L1728.8 960.7L1727.3 963.1L1721.8 960.7L1718.6 958.4L1717.8 956.5L1713.9 956.5L1713.1 955.2L1710.8 950.5L1707.6 944.2L1704.5 938.7L1703.7 937.6L1699.4 937.6L1697.4 928.5L1696.6 927.7L1694.2 927.7L1691.9 923.8L1691.1 922.2L1688.0 921.4L1685.6 914.3L1684.8 912.0L1676.2 912.0L1673.8 906.5L1671.4 895.5L1669.1 884.5L1668.3 882.6L1663.6 882.6L1662.8 875.0L1662.0 873.8L1657.3 873.8L1656.5 861.7L1655.7 860.1L1650.2 860.1L1649.4 849.9L1648.6 848.6L1644.7 848.6L1643.9 845.2L1640.0 845.2ZM2170.0 1043.0L2173.9 1043.1L2178.6 1040.1L2181.8 1040.5L2182.5 1038.9L2184.5 1039.3L2185.3 1037.7L2186.5 1033.8L2187.3 1029.9L2188.1 1026.7L2189.2 1023.6L2192.8 1023.2L2193.6 1018.9L2194.3 1014.9L2195.1 1012.2L2196.3 1013.0L2203.0 1013.0L2204.2 1012.2L2205.3 1013.0L2208.5 1013.4L2208.9 1014.2L2211.2 1014.2L2212.0 1015.7L2212.0 1017.7L2210.8 1020.8L2209.7 1025.2L2208.1 1028.3L2205.3 1028.7L2203.8 1027.9L2198.7 1027.9L2197.9 1029.9L2197.1 1032.2L2195.9 1035.4L2195.5 1040.1L2194.3 1044.0L2193.6 1046.0L2189.6 1044.8L2189.2 1048.0L2188.8 1049.1L2184.5 1047.6L2183.3 1049.5L2180.2 1051.1L2175.5 1052.8L2170.0 1053.0Z"/>
<rect x="300" y="929" width="5" height="14" fill="#0000ff"/>
<rect x="2223" y="139" width="318" height="10" fill="#0000ff"/>
<rect x="2223" y="211.5" width="318" height="12" fill="#ffff00"/>
<line x1="2223" y1="292" x2="2541" y2="292" stroke="#00ffff" stroke-width="10" stroke-dasharray="15 13.4"/>
</g>
<text transform="translate(304.3,87.0) scale(0.9860,1)" font-size="57.5">Maahaihdunta, 0406460 Onkivesi, Vi koko alue 5586 km²</text>
<text transform="translate(160.5,1059.5) scale(0.9670,1)" font-size="59.5">0.0</text>
<text transform="translate(160.5,981.8) scale(0.9670,1)" font-size="59.5">0.5</text>
<text transform="translate(160.5,904.0) scale(0.9670,1)" font-size="59.5">1.0</text>
<text transform="translate(160.5,826.2) scale(0.9670,1)" font-size="59.5">1.5</text>
<text transform="translate(160.5,748.5) scale(0.9670,1)" font-size="59.5">2.0</text>
<text transform="translate(160.5,670.8) scale(0.9670,1)" font-size="59.5">2.5</text>
<text transform="translate(160.5,593.0) scale(0.9670,1)" font-size="59.5">3.0</text>
<text transform="translate(160.5,515.2) scale(0.9670,1)" font-size="59.5">3.5</text>
<text transform="translate(160.5,437.5) scale(0.9670,1)" font-size="59.5">4.0</text>
<text transform="translate(160.5,359.8) scale(0.9670,1)" font-size="59.5">4.5</text>
<text transform="translate(160.5,282.0) scale(0.9670,1)" font-size="59.5">5.0</text>
<text transform="translate(160.5,204.2) scale(0.9670,1)" font-size="59.5">5.5</text>
<text transform="translate(160.5,126.5) scale(0.9670,1)" font-size="59.5">6.0</text>
<text transform="translate(99,960) rotate(-90)" font-size="49.7" xml:space="preserve">Maahaihdunta / Evaporation   mm/d</text>
<text transform="translate(317.5,1120.7) scale(0.9860,1)" font-size="36">IV</text>
<text transform="translate(405.9,1120.7) scale(0.9860,1)" font-size="36">V</text>
<text transform="translate(477.0,1120.7) scale(0.9860,1)" font-size="36">VI</text>
<text transform="translate(554.8,1120.7) scale(0.9860,1)" font-size="36">VII</text>
<text transform="translate(624.9,1120.7) scale(0.9860,1)" font-size="36">VIII</text>
<text transform="translate(715.7,1120.7) scale(0.9860,1)" font-size="36">IX</text>
<text transform="translate(802.8,1120.7) scale(0.9860,1)" font-size="36">X</text>
<text transform="translate(874.0,1120.7) scale(0.9860,1)" font-size="36">XI</text>
<text transform="translate(952.0,1120.7) scale(0.9860,1)" font-size="36">XII</text>
<text transform="translate(1041.5,1120.7) scale(0.9860,1)" font-size="36">I</text>
<text transform="translate(1112.2,1120.7) scale(0.9860,1)" font-size="36">II</text>
<text transform="translate(1184.1,1120.7) scale(0.9860,1)" font-size="36">III</text>
<text transform="translate(1265.3,1120.7) scale(0.9860,1)" font-size="36">IV</text>
<text transform="translate(1353.7,1120.7) scale(0.9860,1)" font-size="36">V</text>
<text transform="translate(1423.9,1120.7) scale(0.9860,1)" font-size="36">VI</text>
<text transform="translate(1502.1,1120.7) scale(0.9860,1)" font-size="36">VII</text>
<text transform="translate(1572.8,1120.7) scale(0.9860,1)" font-size="36">VIII</text>
<text transform="translate(1662.1,1120.7) scale(0.9860,1)" font-size="36">IX</text>
<text transform="translate(1751.0,1120.7) scale(0.9860,1)" font-size="36">X</text>
<text transform="translate(1820.9,1120.7) scale(0.9860,1)" font-size="36">XI</text>
<text transform="translate(1898.6,1120.7) scale(0.9860,1)" font-size="36">XII</text>
<text transform="translate(1988.6,1120.7) scale(0.9860,1)" font-size="36">I</text>
<text transform="translate(2060.0,1120.7) scale(0.9860,1)" font-size="36">II</text>
<text transform="translate(2132.7,1120.7) scale(0.9860,1)" font-size="36">III</text>
<text transform="translate(307.4,1165.0) scale(0.9860,1)" font-size="36">2025</text>
<text transform="translate(1020.6,1165.0) scale(0.9860,1)" font-size="36">2026</text>
<text transform="translate(1968.5,1165.0) scale(0.9860,1)" font-size="36">2027</text>
<text transform="translate(2221.5,84.5) scale(0.9860,1)" font-size="36">Simuloitu historia ja</text>
<text transform="translate(2221.5,127.0) scale(0.9860,1)" font-size="36">keskiennuste</text>
<text transform="translate(2221.5,201.0) scale(0.9860,1)" font-size="36">Ennusteen vaihteluväli</text>
<text transform="translate(2221.5,275.0) scale(0.9860,1)" font-size="36">Ennusteen alku</text>
<text transform="translate(2222.0,1139.0) scale(0.9860,1)" font-size="36">04-Apr-2026 22:07 WSFS-O</text>
</svg></body></html>
